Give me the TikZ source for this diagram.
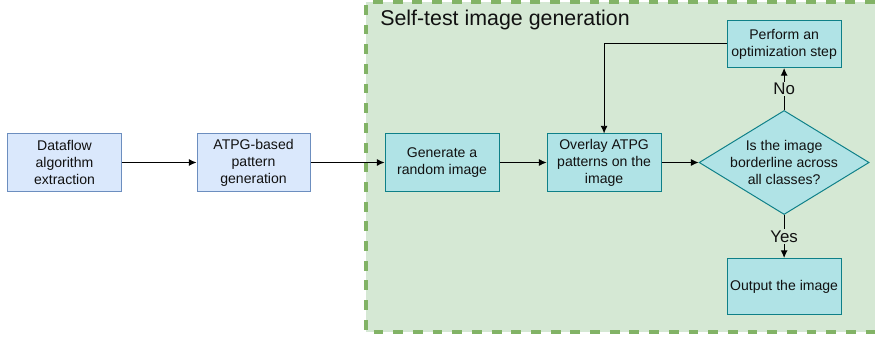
\documentclass[tikz,border=0pt]{standalone}
\usepackage{fontspec}
\setmainfont{Liberation Sans}
\usetikzlibrary{positioning}
\usetikzlibrary{arrows.meta}
\usetikzlibrary{shapes.geometric}

\definecolor{prepfill}{HTML}{DAE8FC}
\definecolor{prepdraw}{HTML}{6C8EBF}
\definecolor{genfill}{HTML}{B0E3E6}
\definecolor{gendraw}{HTML}{0E8088}
\definecolor{regionfill}{HTML}{D5E8D4}
\definecolor{regiondraw}{HTML}{82B366}
\definecolor{txt}{HTML}{111111}

\begin{document}
\begin{tikzpicture}[
    x=0.025cm, y=-0.025cm,
    font=\fontsize{10}{12}\selectfont, text=txt,
    prep/.style={rectangle, draw=prepdraw, fill=prepfill, line width=0.7pt,
        minimum width=2.825cm, minimum height=1.425cm, align=center, inner sep=1pt},
    block/.style={rectangle, draw=gendraw, fill=genfill, line width=0.7pt,
        minimum width=2.85cm, minimum height=1.425cm, align=center, inner sep=1pt},
    decision/.style={diamond, draw=gendraw, fill=genfill, line width=0.7pt,
        minimum width=4.25cm, minimum height=2.6cm, inner sep=0pt},
    link/.style={line width=0.7pt, -{Latex[length=5.5pt,width=5pt]}},
    tag/.style={fill=regionfill, inner sep=1pt, font=\fontsize{12}{14}\selectfont},
]
    \useasboundingbox (0,0) rectangle (875,340);

    % self-test region
    \fill[regionfill] (366,2) rectangle (875,332);
    \draw[regiondraw, line width=2.4pt, dash pattern=on 7pt off 7pt]
        (875,2) -- (366,2) -- (366,332) -- (875,332);
    \node[anchor=base west, inner sep=0pt, font=\fontsize{15.2}{18}\selectfont] (title) at (380,26) {Self-test image generation};

    \node[prep] (B1) at (64.5,162.5) {Dataflow\\algorithm\\extraction};
    \node[prep] (B2) [right=1.875cm of B1] {ATPG-based\\pattern\\generation};

    \node[block] (G1) [right=1.85cm of B2] {Generate a\\random image};
    \node[block] (G2) [right=1.175cm of G1] {Overlay ATPG\\patterns on the\\image};
    \node[decision] (D) [right=0.925cm of G2] {};
    \node[align=center, inner sep=0pt] (Dtext) at (D) {Is the image\\borderline across\\all classes?};

    \node[block, minimum height=1.175cm] (OPT) [above=1.05cm of D] {Perform an\\optimization step};
    \node[block, minimum height=1.4cm] (OUT) [below=1.075cm of D] {Output the image};

    \draw[link] (B1.east) -- (B2.west);
    \draw[link] (B2.east) -- (G1.west);
    \draw[link] (G1.east) -- (G2.west);
    \draw[link] (G2.east) -- (D.west);

    \draw[link] (D.north) -- node[tag] {No} (OPT.south);
    \draw[link] (D.south) -- node[tag] {Yes} (OUT.north);
    \draw[link] (OPT.west) -| (G2.north);
\end{tikzpicture}
\end{document}
